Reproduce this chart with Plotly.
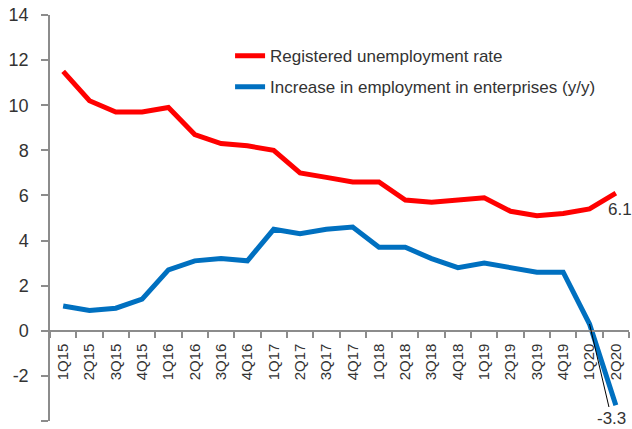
import plotly.graph_objects as go

quarters = ["1Q15", "2Q15", "3Q15", "4Q15", "1Q16", "2Q16", "3Q16", "4Q16",
            "1Q17", "2Q17", "3Q17", "4Q17", "1Q18", "2Q18", "3Q18", "4Q18",
            "1Q19", "2Q19", "3Q19", "4Q19", "1Q20", "2Q20"]
unemployment_rate = [11.5, 10.2, 9.7, 9.7, 9.9, 8.7, 8.3, 8.2, 8.0, 7.0, 6.8, 6.6,
                     6.6, 5.8, 5.7, 5.8, 5.9, 5.3, 5.1, 5.2, 5.4, 6.1]
employment_growth = [1.1, 0.9, 1.0, 1.4, 2.7, 3.1, 3.2, 3.1, 4.5, 4.3, 4.5, 4.6,
                     3.7, 3.7, 3.2, 2.8, 3.0, 2.8, 2.6, 2.6, 0.3, -3.3]
names = ["Registered unemployment rate", "Increase in employment in enterprises (y/y)"]
y_ticks = [-4, -2, 0, 2, 4, 6, 8, 10, 12, 14]
y_ticklabels = ["-4", "-2", "0", "2", "4", "6", "8", "10", "12", "14"]
y_min, y_max = y_ticks[0], y_ticks[-1]

RED = "#FF0000"
BLUE = "#0070C0"
TEXT = "#333333"
AXIS = "#8c8c8c"

fig = go.Figure()
fig.add_trace(go.Scatter(x=quarters, y=unemployment_rate, mode="lines", name=names[0],
                         line=dict(color=RED, width=5), legendgroup="a"))
fig.add_trace(go.Scatter(x=quarters, y=employment_growth, mode="lines", name=names[1],
                         line=dict(color=BLUE, width=5), legendgroup="b"))

# data labels
fig.add_annotation(x=quarters[-1], y=unemployment_rate[-1], text=f"{unemployment_rate[-1]:.1f}",
                   showarrow=False, xanchor="left", yanchor="middle", xshift=-10, yshift=-16,
                   font=dict(family="Liberation Sans", size=17, color=TEXT))
fig.add_annotation(x=quarters[-2], y=employment_growth[-2], text=f"{employment_growth[-1]:.1f}",
                   showarrow=True, arrowhead=0, arrowwidth=1, arrowcolor="black",
                   ax=22, ay=94, standoff=0,
                   font=dict(family="Liberation Sans", size=17, color=TEXT))

zero_pos = (0 - y_min) / (y_max - y_min)

fig.update_layout(
    width=632, height=429,
    margin=dict(l=50, r=3, t=15, b=8),
    plot_bgcolor="white", paper_bgcolor="white",
    font=dict(family="Liberation Sans", color=TEXT),
    showlegend=True,
    legend=dict(x=0.311, y=0.943, xanchor="left", yanchor="top",
                bgcolor="rgba(0,0,0,0)", tracegroupgap=6,
                font=dict(family="Liberation Sans", size=17, color=TEXT)),
    xaxis=dict(type="category", range=[-0.5, len(quarters) - 0.5],
               anchor="free", position=zero_pos, automargin=False,
               showline=True, linecolor=AXIS, linewidth=1.5,
               ticks="outside", tickson="boundaries", ticklen=6, tickcolor=AXIS, tickwidth=1.5,
               tickangle=-90, tickfont=dict(size=15, color=TEXT), showgrid=False,
               ticklabelstandoff=6),
    yaxis=dict(range=[y_min, y_max], tickvals=y_ticks, ticktext=y_ticklabels, automargin=False,
               showline=True, linecolor=AXIS, linewidth=1.5,
               ticks="outside", ticklen=7, tickcolor=AXIS, tickwidth=1.5,
               tickfont=dict(size=18, color=TEXT), showgrid=False, zeroline=False,
               ticklabelstandoff=9),
)

fig.write_html("out.html", config={"displayModeBar": False},
               post_script="document.body.style.margin='0';")
